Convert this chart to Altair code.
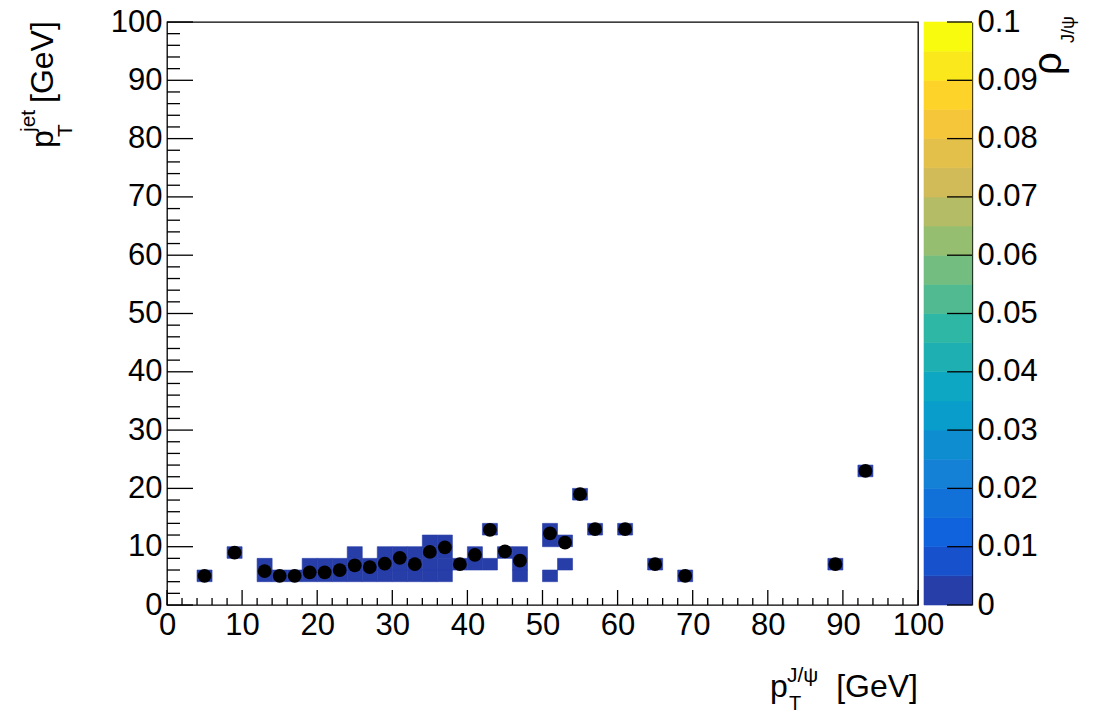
import altair as alt
import pandas as pd

# --- 2D histogram (2 GeV x 2 GeV bins): lower-left corner of each filled bin ---
# (x_low, [y_low of filled bins in that column])
columns = [
    (4, [4]), (8, [8]), (12, [4, 6]), (14, [4]), (16, [4]),
    (18, [4, 6]), (20, [4, 6]), (22, [4, 6]), (24, [4, 6, 8]),
    (26, [4, 6]), (28, [4, 6, 8]), (30, [4, 6, 8]), (32, [4, 6, 8]),
    (34, [4, 6, 8, 10]), (36, [4, 6, 8, 10]), (38, [6]), (40, [6, 8]),
    (42, [6, 12]), (44, [8]), (46, [4, 6, 8]), (50, [4, 10, 12]),
    (52, [6, 10]), (54, [18]), (56, [12]), (60, [12]), (64, [6]),
    (68, [4]), (88, [6]), (92, [22]),
]
cell_z = 0.002  # every filled bin sits in the lowest colour band
BIN = 2

# --- profile points (mean jet pT per J/psi pT bin) ---
prof_x = [5, 9, 13, 15, 17, 19, 21, 23, 25, 27, 29, 31, 33, 35, 37, 39, 41,
          43, 45, 47, 51, 53, 55, 57, 61, 65, 69, 89, 93]
prof_y = [5.0, 9.0, 5.8, 5.0, 5.0, 5.6, 5.6, 6.0, 6.8, 6.5, 7.1, 8.1, 7.0,
          9.1, 9.9, 7.0, 8.6, 12.9, 9.2, 7.6, 12.3, 10.7, 19.0, 13.0, 13.0,
          7.0, 5.0, 7.0, 23.0]

# --- axes ---
major_ticks = [0, 10, 20, 30, 40, 50, 60, 70, 80, 90, 100]
minor_ticks = [v for v in range(0, 101, 2) if v % 10]
z_ticks = [0, 0.01, 0.02, 0.03, 0.04, 0.05, 0.06, 0.07, 0.08, 0.09, 0.1]
Z_MAX = 0.1
N_BANDS = 20

W, H = 751, 583
FONT = "Liberation Sans"

# kBird palette stops
bird_stops = [0.0, 0.125, 0.25, 0.375, 0.5, 0.625, 0.75, 0.875, 1.0]
bird_r = [0.2082, 0.0592, 0.0780, 0.0232, 0.1802, 0.5301, 0.8186, 0.9956, 0.9764]
bird_g = [0.1664, 0.3599, 0.5041, 0.6419, 0.7178, 0.7492, 0.7328, 0.7862, 0.9832]
bird_b = [0.5293, 0.8684, 0.8385, 0.7914, 0.6425, 0.4662, 0.3499, 0.1968, 0.0539]


def bird(f):
    for i in range(len(bird_stops) - 1):
        a, b = bird_stops[i], bird_stops[i + 1]
        if f <= b or i == len(bird_stops) - 2:
            t = (f - a) / (b - a)
            rgb = [c[i] + t * (c[i + 1] - c[i]) for c in (bird_r, bird_g, bird_b)]
            return "#" + "".join(f"{round(255 * v):02x}" for v in rgb)


band_colors = [bird(int((k + 0.99) * 255 / N_BANDS) / 254) for k in range(N_BANDS)]
color_scale = alt.Scale(type="quantize", domain=[0, Z_MAX], range=band_colors)

cells = pd.DataFrame(
    [{"x0": cx, "x1": cx + BIN, "y0": cy, "y1": cy + BIN, "z": cell_z}
     for cx, ys in columns for cy in ys]
)
prof = pd.DataFrame({"x": prof_x, "y": prof_y})
step = Z_MAX / N_BANDS
bands = pd.DataFrame({
    "lo": [k * step for k in range(N_BANDS)],
    "hi": [(k + 1) * step for k in range(N_BANDS)],
    "z": [(k + 0.5) * step for k in range(N_BANDS)],
})

xs = alt.Scale(domain=[0, 100], nice=False, zero=False)
ys_ = alt.Scale(domain=[0, 100], nice=False, zero=False)
zs = alt.Scale(domain=[0, Z_MAX], nice=False, zero=False)

label_cfg = dict(labelFont=FONT, labelFontSize=31, labelColor="black",
                 ticks=False, tickSize=0, domain=False, grid=False,
                 labelFlush=False, labelOverlap=False, title=None)

# filled bins; a thin stroke of the same colour closes the seams between neighbours
hist = alt.Chart(cells).mark_rect(strokeWidth=0.6).encode(
    x=alt.X("x0:Q", scale=xs, axis=alt.Axis(values=major_ticks, labelPadding=5, **label_cfg)),
    x2="x1:Q",
    y=alt.Y("y0:Q", scale=ys_, axis=alt.Axis(values=major_ticks, labelPadding=5, **label_cfg)),
    y2="y1:Q",
    color=alt.Color("z:Q", scale=color_scale, legend=None),
    stroke=alt.Stroke("z:Q", scale=color_scale, legend=None),
)

points = alt.Chart(prof).mark_circle(size=190, color="black", opacity=1).encode(
    x=alt.X("x:Q", scale=xs),
    y=alt.Y("y:Q", scale=ys_, axis=None),
)

# inward ticks along the bottom and left frame edges
def ticks_x(vals, length):
    return alt.Chart(pd.DataFrame({"v": vals})).mark_rule(color="black", strokeWidth=1.3).encode(
        x=alt.X("v:Q", scale=xs), y=alt.value(H), y2=alt.value(H - length))


def ticks_y(vals, length):
    return alt.Chart(pd.DataFrame({"v": vals})).mark_rule(color="black", strokeWidth=1.3).encode(
        y=alt.Y("v:Q", scale=ys_, axis=None), x=alt.value(0), x2=alt.value(length))


# colour bar
CB_X0, CB_X1 = 757, 805
cbar = alt.Chart(bands).mark_rect(strokeWidth=0.6).encode(
    x=alt.value(CB_X0), x2=alt.value(CB_X1),
    y=alt.Y("lo:Q", scale=zs, axis=alt.Axis(
        orient="right", offset=CB_X1 - W, values=z_ticks, format="~g",
        labelFont=FONT, labelFontSize=31, labelColor="black", labelPadding=5,
        ticks=False, tickSize=0, domain=True, domainColor="black", domainWidth=1.3,
        grid=False, labelFlush=False, labelOverlap=False, title=None)),
    y2="hi:Q",
    color=alt.Color("z:Q", scale=color_scale, legend=None),
    stroke=alt.Stroke("z:Q", scale=color_scale, legend=None),
)
cbar_ticks = alt.Chart(pd.DataFrame({"v": z_ticks})).mark_rule(color="black", strokeWidth=1.3).encode(
    y=alt.Y("v:Q", scale=zs, axis=None), x=alt.value(CB_X1 - 25), x2=alt.value(CB_X1))


def label(s, x, y, size, angle=0, align="left"):
    return alt.Chart(pd.DataFrame({"t": [s]})).mark_text(
        font=FONT, fontSize=size, color="black", align=align, baseline="alphabetic",
        angle=angle).encode(x=alt.value(x), y=alt.value(y), text="t:N")


titles = [
    # x title: p_T^{J/psi} [GeV]
    label("p", 603, 675, 32),
    label("J/\u03c8", 620, 660, 21),
    label("T", 622, 688, 20),
    label("[GeV]", W, 675, 32, align="right"),
    # y title: p_T^{jet} [GeV]
    label("p", -114, 126, 32, angle=270),
    label("jet", -132, 110, 21, angle=270),
    label("T", -95, 115, 21, angle=270),
    label("[GeV]", -114, 81, 32, angle=270),
    # colour bar title: rho_{J/psi}
    label("\u03c1", 894, 53, 40, angle=270),
    label("J/\u03c8", 907, 21, 18, angle=270),
]

chart = alt.layer(
    hist, points,
    ticks_x(major_ticks, 15), ticks_x(minor_ticks, 7),
    ticks_y(major_ticks, 26), ticks_y(minor_ticks, 13),
    cbar, cbar_ticks, *titles,
).resolve_scale(y="independent").properties(
    width=W, height=H,
    autosize=alt.AutoSizeParams(type="none"),
    padding={"left": 167, "top": 22, "right": 179, "bottom": 109},
    background="white",
).configure_view(stroke="black", strokeWidth=1.3)

chart.save("out.html", embed_options={"renderer": "svg", "actions": False})
